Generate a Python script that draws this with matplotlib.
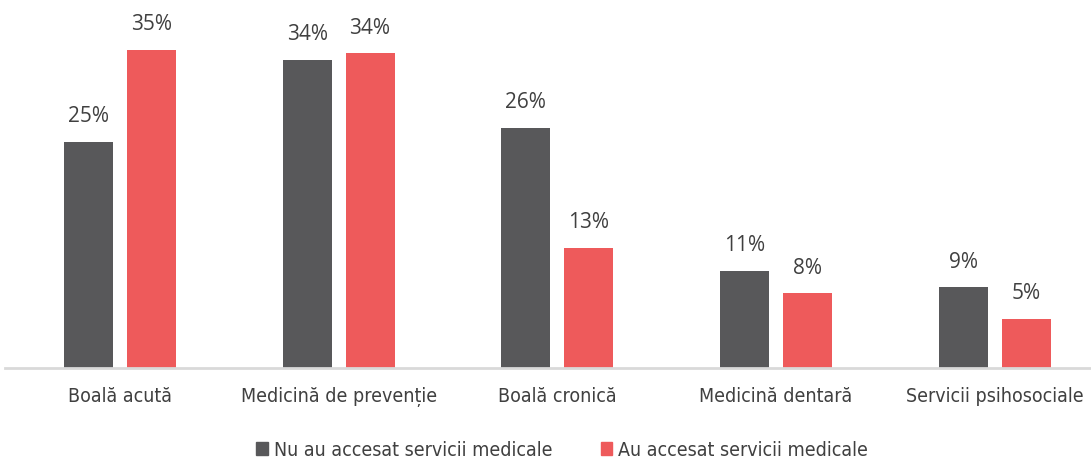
import matplotlib
matplotlib.use("Agg")
import matplotlib.pyplot as plt
import numpy as np
from matplotlib.patches import Patch
from matplotlib.font_manager import FontProperties

categories = ["Boală acută", "Medicină de prevenție", "Boală cronică", "Medicină dentară", "Servicii psihosociale"]
series_names = ["Nu au accesat servicii medicale", "Au accesat servicii medicale"]
nu_values = [24.9, 33.9, 26.4, 10.7, 8.9]
au_values = [35.0, 34.6, 13.2, 8.2, 5.4]
nu_labels = ["25%", "34%", "26%", "11%", "9%"]
au_labels = ["35%", "34%", "13%", "8%", "5%"]

gray = "#58585A"
red = "#EE5A5B"
label_font = ["Open Sans", "DejaVu Sans"]
narrow_fp = FontProperties(family=["Liberation Sans Narrow", "DejaVu Sans"], stretch="condensed", size=14)

fig = plt.figure(figsize=(10.91, 4.59), dpi=100)
ax = fig.add_axes([5/1091, 1-368/459, 1-5/1091, 363.6/459])

x = np.arange(len(categories))
w = 0.224
off = 0.144
b1 = ax.bar(x - off, nu_values, w, color=gray)
b2 = ax.bar(x + off, au_values, w, color=red)

for bars, labs in ((b1, nu_labels), (b2, au_labels)):
    for rect, lab in zip(bars, labs):
        ax.annotate(lab, (rect.get_x() + rect.get_width()/2, rect.get_height()),
                    xytext=(0, 10.5), textcoords="offset points", ha="center", va="bottom",
                    fontsize=15, color="#404040", family=label_font)

ax.set_xlim(-0.525, 4.44)
ax.set_ylim(0, 40)
for s in ("top", "right", "left"):
    ax.spines[s].set_visible(False)
ax.spines["bottom"].set_color("#D9D9D9")
ax.spines["bottom"].set_linewidth(2)
ax.set_yticks([])
ax.set_xticks(x)
ax.set_xticklabels(categories, fontproperties=narrow_fp, color="#404040")
ax.tick_params(axis="x", length=0, pad=14)

handles = [Patch(color=gray), Patch(color=red)]
leg = fig.legend(handles, series_names, loc="center", bbox_to_anchor=(562/1091, 1-450/459),
                 ncol=2, frameon=False, prop=narrow_fp,
                 handlelength=0.6, handleheight=0.6, handletextpad=0.3, columnspacing=2.5)
for t in leg.get_texts():
    t.set_color("#404040")

fig.savefig("out.png", dpi=100)
